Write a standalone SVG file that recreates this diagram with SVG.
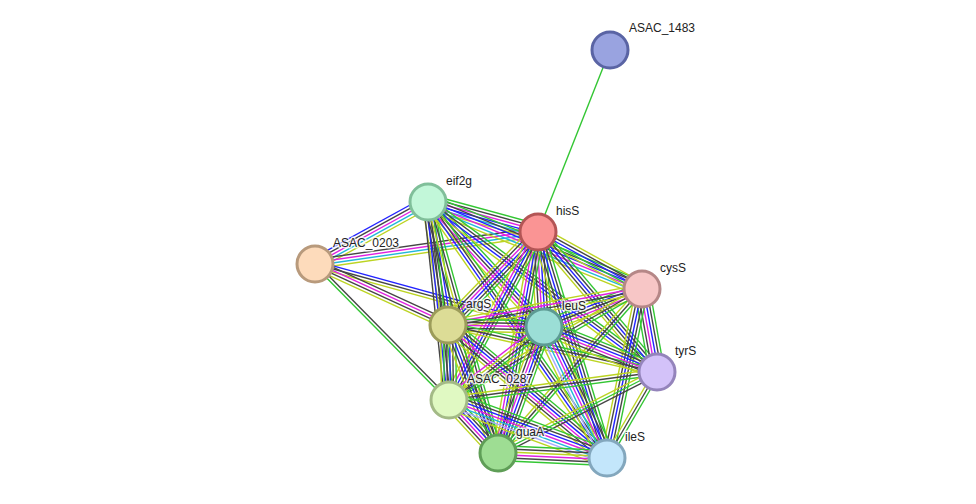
<svg xmlns="http://www.w3.org/2000/svg" width="976" height="504" viewBox="0 0 976 504">
<style>
#edges line{stroke-width:1.4;fill:none}
.g{stroke:#33c633}.k{stroke:#454545}.b{stroke:#2323ff}.m{stroke:#e021e0}.c{stroke:#22b8d8}.y{stroke:#bcd422}.p{stroke:#a8a8ff}
.node circle{stroke-width:3}
.lbl{font-family:"Liberation Sans",Arial,sans-serif;font-size:12px;fill:#222;stroke:#fff;stroke-width:3px;stroke-opacity:0.75;paint-order:stroke;stroke-linejoin:round}
</style>
<rect width="976" height="504" fill="#fff"/>
<g id="edges">
<line class="g" x1="538" y1="232" x2="610" y2="50"/>
<g transform="translate(315 264) rotate(-28.75)"><line class="b" x2="128.9" y1="-6" y2="-6"/><line class="k" x2="128.9" y1="-3" y2="-3"/><line class="m" x2="128.9" y1="0" y2="0"/><line class="c" x2="128.9" y1="3" y2="3"/><line class="y" x2="128.9" y1="6" y2="6"/></g>
<g transform="translate(315 264) rotate(-8.17)"><line class="k" x2="225.3" y1="-4.5" y2="-4.5"/><line class="m" x2="225.3" y1="-1.5" y2="-1.5"/><line class="c" x2="225.3" y1="1.5" y2="1.5"/><line class="y" x2="225.3" y1="4.5" y2="4.5"/></g>
<g transform="translate(315 264) rotate(15.38)"><line class="b" x2="237.5" y1="-3" y2="-3"/><line class="k" x2="237.5" y1="0" y2="0"/><line class="y" x2="237.5" y1="3" y2="3"/></g>
<g transform="translate(315 264) rotate(24.64)"><line class="k" x2="146.3" y1="-4.5" y2="-4.5"/><line class="m" x2="146.3" y1="-1.5" y2="-1.5"/><line class="k" x2="146.3" y1="1.5" y2="1.5"/><line class="y" x2="146.3" y1="4.5" y2="4.5"/></g>
<g transform="translate(315 264) rotate(45.43)"><line class="k" x2="190.9" y1="-1.5" y2="-1.5"/><line class="g" x2="190.9" y1="1.5" y2="1.5"/></g>
<g transform="translate(428 202) rotate(15.26)"><line class="g" x2="114" y1="-7.5" y2="-7.5"/><line class="k" x2="114" y1="-4.5" y2="-4.5"/><line class="m" x2="114" y1="-1.5" y2="-1.5"/><line class="b" x2="114" y1="1.5" y2="1.5"/><line class="c" x2="114" y1="4.5" y2="4.5"/><line class="y" x2="114" y1="7.5" y2="7.5"/></g>
<g transform="translate(428 202) rotate(80.76)"><line class="g" x2="124.6" y1="-6" y2="-6"/><line class="b" x2="124.6" y1="-3" y2="-3"/><line class="k" x2="124.6" y1="0" y2="0"/><line class="k" x2="124.6" y1="3" y2="3"/><line class="y" x2="124.6" y1="6" y2="6"/></g>
<g transform="translate(428 202) rotate(83.95)"><line class="g" x2="199.1" y1="-4.5" y2="-4.5"/><line class="k" x2="199.1" y1="-1.5" y2="-1.5"/><line class="b" x2="199.1" y1="1.5" y2="1.5"/><line class="k" x2="199.1" y1="4.5" y2="4.5"/></g>
<g transform="translate(428 202) rotate(74.42)"><line class="g" x2="260.6" y1="-4.5" y2="-4.5"/><line class="k" x2="260.6" y1="-1.5" y2="-1.5"/><line class="y" x2="260.6" y1="1.5" y2="1.5"/><line class="k" x2="260.6" y1="4.5" y2="4.5"/></g>
<g transform="translate(428 202) rotate(47.14)"><line class="g" x2="170.5" y1="-6" y2="-6"/><line class="b" x2="170.5" y1="-3" y2="-3"/><line class="k" x2="170.5" y1="0" y2="0"/><line class="m" x2="170.5" y1="3" y2="3"/><line class="y" x2="170.5" y1="6" y2="6"/></g>
<g transform="translate(428 202) rotate(22.12)"><line class="g" x2="231" y1="-7.5" y2="-7.5"/><line class="k" x2="231" y1="-4.5" y2="-4.5"/><line class="b" x2="231" y1="-1.5" y2="-1.5"/><line class="m" x2="231" y1="1.5" y2="1.5"/><line class="c" x2="231" y1="4.5" y2="4.5"/><line class="y" x2="231" y1="7.5" y2="7.5"/></g>
<g transform="translate(428 202) rotate(36.59)"><line class="g" x2="285.2" y1="-4.5" y2="-4.5"/><line class="k" x2="285.2" y1="-1.5" y2="-1.5"/><line class="b" x2="285.2" y1="1.5" y2="1.5"/><line class="y" x2="285.2" y1="4.5" y2="4.5"/></g>
<g transform="translate(428 202) rotate(55.04)"><line class="g" x2="312.4" y1="-4.5" y2="-4.5"/><line class="k" x2="312.4" y1="-1.5" y2="-1.5"/><line class="b" x2="312.4" y1="1.5" y2="1.5"/><line class="y" x2="312.4" y1="4.5" y2="4.5"/></g>
<g transform="translate(538 232) rotate(28.73)"><line class="y" x2="118.6" y1="-6" y2="-6"/><line class="k" x2="118.6" y1="-3" y2="-3"/><line class="b" x2="118.6" y1="0" y2="0"/><line class="g" x2="118.6" y1="3" y2="3"/><line class="y" x2="118.6" y1="6" y2="6"/></g>
<g transform="translate(538 232) rotate(86.39)"><line class="g" x2="95.2" y1="-7.5" y2="-7.5"/><line class="k" x2="95.2" y1="-4.5" y2="-4.5"/><line class="b" x2="95.2" y1="-1.5" y2="-1.5"/><line class="m" x2="95.2" y1="1.5" y2="1.5"/><line class="k" x2="95.2" y1="4.5" y2="4.5"/><line class="y" x2="95.2" y1="7.5" y2="7.5"/></g>
<g transform="translate(538 232) rotate(134.06)"><line class="g" x2="129.4" y1="-7.5" y2="-7.5"/><line class="k" x2="129.4" y1="-4.5" y2="-4.5"/><line class="b" x2="129.4" y1="-1.5" y2="-1.5"/><line class="m" x2="129.4" y1="1.5" y2="1.5"/><line class="k" x2="129.4" y1="4.5" y2="4.5"/><line class="y" x2="129.4" y1="7.5" y2="7.5"/></g>
<g transform="translate(538 232) rotate(49.64)"><line class="g" x2="183.7" y1="-6" y2="-6"/><line class="k" x2="183.7" y1="-3" y2="-3"/><line class="b" x2="183.7" y1="0" y2="0"/><line class="k" x2="183.7" y1="3" y2="3"/><line class="y" x2="183.7" y1="6" y2="6"/></g>
<g transform="translate(538 232) rotate(73.02)"><line class="g" x2="236.3" y1="-6" y2="-6"/><line class="k" x2="236.3" y1="-3" y2="-3"/><line class="b" x2="236.3" y1="0" y2="0"/><line class="k" x2="236.3" y1="3" y2="3"/><line class="y" x2="236.3" y1="6" y2="6"/></g>
<g transform="translate(538 232) rotate(100.26)"><line class="g" x2="224.6" y1="-6" y2="-6"/><line class="k" x2="224.6" y1="-3" y2="-3"/><line class="b" x2="224.6" y1="0" y2="0"/><line class="m" x2="224.6" y1="3" y2="3"/><line class="y" x2="224.6" y1="6" y2="6"/></g>
<g transform="translate(538 232) rotate(117.92)"><line class="g" x2="190.1" y1="-6" y2="-6"/><line class="k" x2="190.1" y1="-3" y2="-3"/><line class="b" x2="190.1" y1="0" y2="0"/><line class="m" x2="190.1" y1="3" y2="3"/><line class="y" x2="190.1" y1="6" y2="6"/></g>
<g transform="translate(642 289) rotate(158.81)"><line class="y" x2="105.1" y1="-6" y2="-6"/><line class="m" x2="105.1" y1="-3" y2="-3"/><line class="k" x2="105.1" y1="0" y2="0"/><line class="b" x2="105.1" y1="3" y2="3"/><line class="g" x2="105.1" y1="6" y2="6"/></g>
<g transform="translate(642 289) rotate(169.49)"><line class="y" x2="197.3" y1="-4.5" y2="-4.5"/><line class="k" x2="197.3" y1="-1.5" y2="-1.5"/><line class="m" x2="197.3" y1="1.5" y2="1.5"/><line class="y" x2="197.3" y1="4.5" y2="4.5"/></g>
<g transform="translate(642 289) rotate(79.76)"><line class="g" x2="84.3" y1="-7.5" y2="-7.5"/><line class="k" x2="84.3" y1="-4.5" y2="-4.5"/><line class="b" x2="84.3" y1="-1.5" y2="-1.5"/><line class="m" x2="84.3" y1="1.5" y2="1.5"/><line class="k" x2="84.3" y1="4.5" y2="4.5"/><line class="g" x2="84.3" y1="7.5" y2="7.5"/></g>
<g transform="translate(642 289) rotate(101.7)"><line class="g" x2="172.6" y1="-6" y2="-6"/><line class="k" x2="172.6" y1="-3" y2="-3"/><line class="b" x2="172.6" y1="0" y2="0"/><line class="k" x2="172.6" y1="3" y2="3"/><line class="y" x2="172.6" y1="6" y2="6"/></g>
<g transform="translate(642 289) rotate(131.28)"><line class="g" x2="218.2" y1="-3" y2="-3"/><line class="k" x2="218.2" y1="0" y2="0"/><line class="y" x2="218.2" y1="3" y2="3"/></g>
<g transform="translate(642 289) rotate(150.1)"><line class="g" x2="222.6" y1="-3" y2="-3"/><line class="k" x2="222.6" y1="0" y2="0"/><line class="y" x2="222.6" y1="3" y2="3"/></g>
<g transform="translate(448 325) rotate(1.19)"><line class="g" x2="96" y1="-6" y2="-6"/><line class="k" x2="96" y1="-3" y2="-3"/><line class="m" x2="96" y1="0" y2="0"/><line class="k" x2="96" y1="3" y2="3"/><line class="y" x2="96" y1="6" y2="6"/></g>
<g transform="translate(448 325) rotate(89.24)"><line class="g" x2="75" y1="-7.5" y2="-7.5"/><line class="k" x2="75" y1="-4.5" y2="-4.5"/><line class="b" x2="75" y1="-1.5" y2="-1.5"/><line class="k" x2="75" y1="1.5" y2="1.5"/><line class="g" x2="75" y1="4.5" y2="4.5"/><line class="y" x2="75" y1="7.5" y2="7.5"/></g>
<g transform="translate(448 325) rotate(68.66)"><line class="g" x2="137.4" y1="-6" y2="-6"/><line class="k" x2="137.4" y1="-3" y2="-3"/><line class="b" x2="137.4" y1="0" y2="0"/><line class="k" x2="137.4" y1="3" y2="3"/><line class="y" x2="137.4" y1="6" y2="6"/></g>
<g transform="translate(448 325) rotate(39.92)"><line class="g" x2="207.3" y1="-7.5" y2="-7.5"/><line class="k" x2="207.3" y1="-4.5" y2="-4.5"/><line class="b" x2="207.3" y1="-1.5" y2="-1.5"/><line class="m" x2="207.3" y1="1.5" y2="1.5"/><line class="k" x2="207.3" y1="4.5" y2="4.5"/><line class="y" x2="207.3" y1="7.5" y2="7.5"/></g>
<g transform="translate(448 325) rotate(12.67)"><line class="g" x2="214.2" y1="-3" y2="-3"/><line class="k" x2="214.2" y1="0" y2="0"/><line class="y" x2="214.2" y1="3" y2="3"/></g>
<g transform="translate(544 327) rotate(21.72)"><line class="g" x2="121.6" y1="-7.5" y2="-7.5"/><line class="k" x2="121.6" y1="-4.5" y2="-4.5"/><line class="b" x2="121.6" y1="-1.5" y2="-1.5"/><line class="m" x2="121.6" y1="1.5" y2="1.5"/><line class="k" x2="121.6" y1="4.5" y2="4.5"/><line class="y" x2="121.6" y1="7.5" y2="7.5"/></g>
<g transform="translate(544 327) rotate(64.31)"><line class="g" x2="145.4" y1="-9" y2="-9"/><line class="k" x2="145.4" y1="-6" y2="-6"/><line class="b" x2="145.4" y1="-3" y2="-3"/><line class="m" x2="145.4" y1="0" y2="0"/><line class="c" x2="145.4" y1="3" y2="3"/><line class="p" x2="145.4" y1="6" y2="6"/><line class="y" x2="145.4" y1="9" y2="9"/></g>
<g transform="translate(544 327) rotate(110.06)"><line class="g" x2="134.1" y1="-7.5" y2="-7.5"/><line class="k" x2="134.1" y1="-4.5" y2="-4.5"/><line class="b" x2="134.1" y1="-1.5" y2="-1.5"/><line class="m" x2="134.1" y1="1.5" y2="1.5"/><line class="k" x2="134.1" y1="4.5" y2="4.5"/><line class="y" x2="134.1" y1="7.5" y2="7.5"/></g>
<g transform="translate(544 327) rotate(142.46)"><line class="g" x2="119.8" y1="-4.5" y2="-4.5"/><line class="k" x2="119.8" y1="-1.5" y2="-1.5"/><line class="y" x2="119.8" y1="1.5" y2="1.5"/><line class="m" x2="119.8" y1="4.5" y2="4.5"/></g>
<g transform="translate(657 372) rotate(120.17)"><line class="g" x2="99.5" y1="-3" y2="-3"/><line class="k" x2="99.5" y1="0" y2="0"/><line class="y" x2="99.5" y1="3" y2="3"/></g>
<g transform="translate(657 372) rotate(172.33)"><line class="g" x2="209.9" y1="-3" y2="-3"/><line class="k" x2="209.9" y1="0" y2="0"/><line class="y" x2="209.9" y1="3" y2="3"/></g>
<g transform="translate(657 372) rotate(153)"><line class="k" x2="178.4" y1="-3" y2="-3"/><line class="g" x2="178.4" y1="0" y2="0"/><line class="y" x2="178.4" y1="3" y2="3"/></g>
<g transform="translate(449 400) rotate(47.25)"><line class="g" x2="72.2" y1="-7.5" y2="-7.5"/><line class="k" x2="72.2" y1="-4.5" y2="-4.5"/><line class="b" x2="72.2" y1="-1.5" y2="-1.5"/><line class="m" x2="72.2" y1="1.5" y2="1.5"/><line class="k" x2="72.2" y1="4.5" y2="4.5"/><line class="y" x2="72.2" y1="7.5" y2="7.5"/></g>
<g transform="translate(449 400) rotate(20.16)"><line class="g" x2="168.3" y1="-9" y2="-9"/><line class="k" x2="168.3" y1="-6" y2="-6"/><line class="b" x2="168.3" y1="-3" y2="-3"/><line class="m" x2="168.3" y1="0" y2="0"/><line class="c" x2="168.3" y1="3" y2="3"/><line class="p" x2="168.3" y1="6" y2="6"/><line class="y" x2="168.3" y1="9" y2="9"/></g>
<g transform="translate(498 453) rotate(2.63)"><line class="g" x2="109.1" y1="-7.5" y2="-7.5"/><line class="k" x2="109.1" y1="-4.5" y2="-4.5"/><line class="y" x2="109.1" y1="-1.5" y2="-1.5"/><line class="m" x2="109.1" y1="1.5" y2="1.5"/><line class="k" x2="109.1" y1="4.5" y2="4.5"/><line class="g" x2="109.1" y1="7.5" y2="7.5"/></g>
</g>
<g id="ASAC_1483" class="node"><circle cx="610" cy="50" r="18" fill="#99a3e0" stroke="#5a64a4"/><text class="lbl" x="629" y="32">ASAC_1483</text></g>
<g id="hisS" class="node"><circle cx="538" cy="232" r="18" fill="#fa9494" stroke="#b35555"/><text class="lbl" x="556" y="215">hisS</text></g>
<g id="eif2g" class="node"><circle cx="428" cy="202" r="18" fill="#c2f7d9" stroke="#80bf9a"/><text class="lbl" x="446" y="185">eif2g</text></g>
<g id="ASAC_0203" class="node"><circle cx="315" cy="264" r="18" fill="#fddbbb" stroke="#b89a7c"/><text class="lbl" x="333" y="247">ASAC_0203</text></g>
<g id="cysS" class="node"><circle cx="642" cy="289" r="18" fill="#f7c6c6" stroke="#b58787"/><text class="lbl" x="660" y="272">cysS</text></g>
<g id="argS" class="node"><circle cx="448" cy="325" r="18" fill="#dcdc96" stroke="#9c9c5a"/><text class="lbl" x="466" y="308">argS</text></g>
<g id="leuS" class="node"><circle cx="544" cy="327" r="18" fill="#9bded6" stroke="#5d9a93"/><text class="lbl" x="562" y="310">leuS</text></g>
<g id="tyrS" class="node"><circle cx="657" cy="372" r="18" fill="#d3c2f9" stroke="#9484bb"/><text class="lbl" x="675" y="355">tyrS</text></g>
<g id="ASAC_0287" class="node"><circle cx="449" cy="400" r="18" fill="#e0f9c2" stroke="#a3ba86"/><text class="lbl" x="467" y="383">ASAC_0287</text></g>
<g id="guaA" class="node"><circle cx="498" cy="453" r="18" fill="#9edd93" stroke="#5f9e57"/><text class="lbl" x="516" y="436">guaA</text></g>
<g id="ileS" class="node"><circle cx="607" cy="458" r="18" fill="#c3e6fb" stroke="#83a7bd"/><text class="lbl" x="625" y="441">ileS</text></g>
</svg>
